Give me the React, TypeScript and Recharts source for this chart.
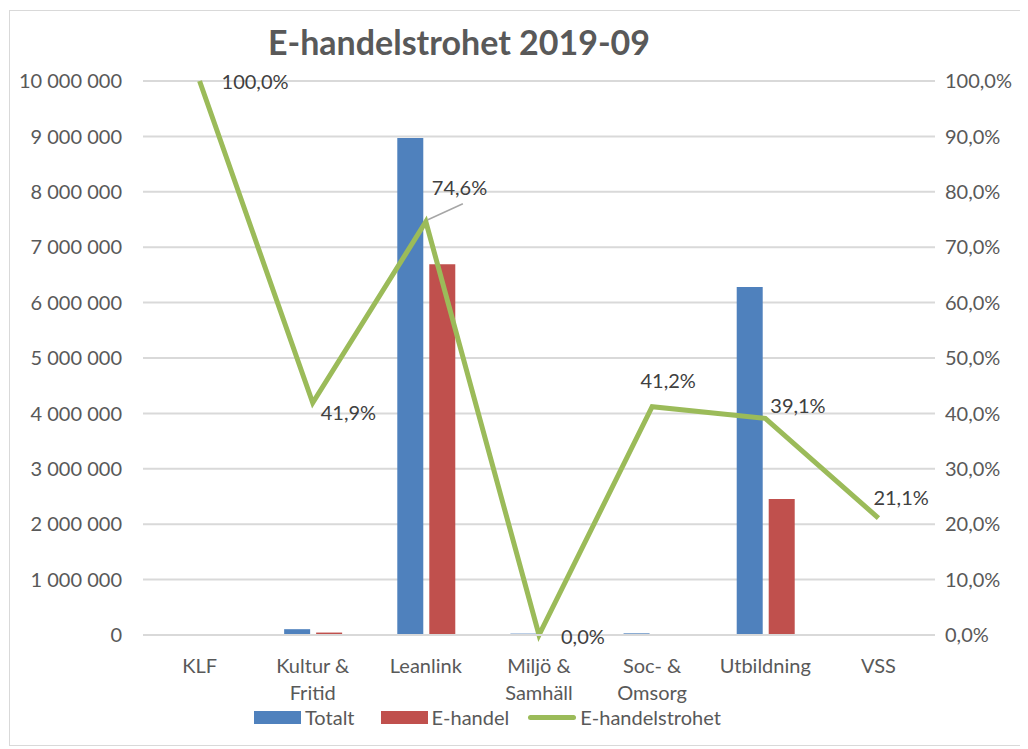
import React from 'react';
import {
  ComposedChart, Bar, Line, XAxis, YAxis, CartesianGrid, LabelList,
} from 'recharts';

const categories = ['KLF', 'Kultur & Fritid', 'Leanlink', 'Miljö & Samhäll', 'Soc- & Omsorg', 'Utbildning', 'VSS'];
const totalt = [2000, 105000, 8970000, 25000, 30000, 6280000, 9000];
const ehandel = [2000, 44000, 6690000, 0, 12400, 2455000, 1900];
const trohet = [1.0, 0.419, 0.746, 0.0, 0.412, 0.391, 0.211];
const leftTicks = [0, 1000000, 2000000, 3000000, 4000000, 5000000, 6000000, 7000000, 8000000, 9000000, 10000000];
const rightTicks = [0, 0.1, 0.2, 0.3, 0.4, 0.5, 0.6, 0.7, 0.8, 0.9, 1.0];

// label placement relative to each point (Excel put these by hand)
const labelOffsets = [
  { dx: 22, dy: 0, anchor: 'start' },
  { dx: 8, dy: 9, anchor: 'start' },
  { dx: 6, dy: -35, anchor: 'start' },
  { dx: 22, dy: 1, anchor: 'start' },
  { dx: 16, dy: -27, anchor: 'middle' },
  { dx: 5, dy: -13, anchor: 'start' },
  { dx: -5, dy: -21, anchor: 'start' },
];

const rows = categories.map((name, i) => ({
  name,
  totalt: totalt[i],
  ehandel: ehandel[i],
  trohet: trohet[i],
}));

const FONT = 'Lato, Calibri, sans-serif';
const GREY = '#595959';
const FS = 20;

const fmtNum = (v: number) => String(Math.round(v)).replace(/\B(?=(\d{3})+(?!\d))/g, ' ');
const fmtPct = (v: number) => (v * 100).toFixed(1).replace('.', ',') + '%';

function CategoryTick(props: any) {
  const { x, y, payload } = props;
  const text: string = payload.value;
  const lines = text.includes('& ') ? [text.split('& ')[0] + '&', text.split('& ')[1]] : [text];
  return (
    <text x={x} y={y} textAnchor="middle" fill={GREY} fontSize={FS} fontFamily={FONT}>
      {lines.map((l, i) => (
        <tspan key={i} x={x} dy={i === 0 ? 36 : 27}>{l}</tspan>
      ))}
    </text>
  );
}

function PctLabel(props: any) {
  const { x, y, index, value } = props;
  const o = labelOffsets[index];
  return (
    <g>
      {index === 2 && (
        <line x1={x + 2} y1={y - 2} x2={x + 37} y2={y - 18} stroke="#a6a6a6" strokeWidth={1.5} />
      )}
      <text
        x={x + o.dx}
        y={y + o.dy}
        textAnchor={o.anchor}
        dominantBaseline="central"
        fill="#404040"
        fontSize={FS}
        fontFamily={FONT}
      >
        {fmtPct(value)}
      </text>
    </g>
  );
}

export default function App() {
  return (
    <div
      style={{
        position: 'relative',
        width: 1012,
        height: 734,
        marginLeft: 1,
        marginTop: 2,
        border: '1px solid #d9d9d9',
        background: '#fff',
        fontFamily: FONT,
      }}
    >
      <div
        style={{
          position: 'absolute',
          top: 10,
          left: 0,
          width: 898,
          textAlign: 'center',
          fontSize: 34,
          fontWeight: 700,
          color: GREY,
        }}
      >
        E-handelstrohet 2019-09
      </div>
      <ComposedChart
        width={1012}
        height={734}
        data={rows}
        margin={{ top: 70, right: 0, bottom: 0, left: 0 }}
        barSize={26}
        barGap={6}
      >
        <CartesianGrid vertical={false} stroke="#d9d9d9" strokeWidth={2} yAxisId="left" />
        <XAxis
          dataKey="name"
          height={110}
          tickSize={0}
          tick={<CategoryTick />}
          axisLine={{ stroke: '#d9d9d9', strokeWidth: 2 }}
          interval={0}
        />
        <YAxis
          yAxisId="left"
          width={133}
          domain={[0, 10000000]}
          ticks={leftTicks}
          tickFormatter={fmtNum}
          axisLine={false}
          tickLine={false}
          tickSize={0}
          tickMargin={21}
          tick={{ fill: GREY, fontSize: FS, fontFamily: FONT }}
        />
        <YAxis
          yAxisId="right"
          orientation="right"
          width={87}
          domain={[0, 1]}
          ticks={rightTicks}
          tickFormatter={fmtPct}
          axisLine={false}
          tickLine={false}
          tickSize={0}
          tickMargin={10}
          tick={{ fill: GREY, fontSize: FS, fontFamily: FONT, textAnchor: 'start' }}
        />
        <Bar yAxisId="left" dataKey="totalt" fill="#4f81bd" isAnimationActive={false} />
        <Bar yAxisId="left" dataKey="ehandel" fill="#c0504d" isAnimationActive={false} />
        <Line
          yAxisId="right"
          dataKey="trohet"
          type="linear"
          stroke="#9bbb59"
          strokeWidth={5}
          dot={false}
          activeDot={false}
          isAnimationActive={false}
        >
          <LabelList dataKey="trohet" content={<PctLabel />} />
        </Line>
      </ComposedChart>
      <div
        style={{
          position: 'absolute',
          top: 694,
          left: 244,
          display: 'flex',
          alignItems: 'center',
          fontSize: FS,
          lineHeight: '24px',
          color: GREY,
        }}
      >
        <span style={{ width: 47, height: 13, background: '#4f81bd', marginRight: 4 }} />
        <span style={{ marginRight: 26 }}>Totalt</span>
        <span style={{ width: 47, height: 13, background: '#c0504d', marginRight: 4 }} />
        <span style={{ marginRight: 19 }}>E-handel</span>
        <span style={{ width: 48, height: 5, borderRadius: 3, background: '#9bbb59', marginRight: 4 }} />
        <span>E-handelstrohet</span>
      </div>
    </div>
  );
}
